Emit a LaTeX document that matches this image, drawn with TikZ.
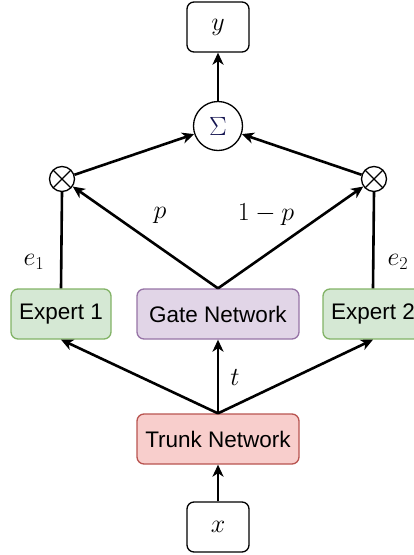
\RequirePackage{fix-cm}
\documentclass[tikz,border=0pt]{standalone}
\usepackage{graphicx}
\usepackage{fontspec}
\setmainfont{Liberation Sans}
\usetikzlibrary{arrows.meta}
\definecolor{expfill}{HTML}{D5E8D4}\definecolor{expline}{HTML}{82B366}
\definecolor{gatefill}{HTML}{E1D5E7}\definecolor{gateline}{HTML}{9673A6}
\definecolor{trunkfill}{HTML}{F8CECC}\definecolor{trunkline}{HTML}{B85450}
\definecolor{sigmablue}{HTML}{141450}
\begin{document}
\begin{tikzpicture}[x=1pt,y=-1pt,
  box/.style={draw, line width=1.3pt, rounded corners=7pt, minimum height=50pt,
    inner sep=0pt, font=\fontsize{22.5}{25}\selectfont},
  varbox/.style={box, minimum width=62pt, font=\fontsize{26}{29}\selectfont},
  expbox/.style={box, fill=expfill, draw=expline, minimum width=100pt},
  netbox/.style={box, minimum width=162pt},
  mathlbl/.style={inner sep=0pt, font=\fontsize{26}{29}\selectfont},
  mult/.style={circle, draw, line width=1.3pt, minimum size=25pt, inner sep=0pt,
    path picture={\draw[line width=1.1pt]
      (path picture bounding box.north west) -- (path picture bounding box.south east)
      (path picture bounding box.north east) -- (path picture bounding box.south west);}},
  flow/.style={line width=2.6pt, -{Stealth[length=12pt,width=11pt,inset=3.5pt]}},
  link/.style={line width=2.6pt}]
\clip (0,0) rectangle (414,555);
\useasboundingbox (0,0) rectangle (414,555);

% variables
\node[varbox] (y) at (218,27) {$y$};
\node[varbox] (x) at (218,527) {$x$};

% combination
\node[circle, draw, line width=1.3pt, minimum size=49pt, inner sep=0pt,
  font=\fontsize{22}{25}\selectfont, text=sigmablue] (sum) at (218,126)
  {\scalebox{1.2}{$\Sigma$}};
\node[mult] (ml) at (62,179) {};
\node[mult] (mr) at (374,179) {};

% networks
\node[expbox] (e1) at (61,314) {Expert 1};
\node[netbox, fill=gatefill, draw=gateline] (gate) at (218,314) {Gate Network};
\node[expbox] (e2) at (373,314) {Expert 2};
\node[netbox, fill=trunkfill, draw=trunkline] (trunk) at (218,439) {Trunk Network};

% connectors
\draw[flow] (x) -- (trunk);
\draw[flow] (trunk.north) -- (e1.south);
\draw[flow] (trunk.north) -- (gate.south);
\draw[flow] (trunk.north) -- (e2.south);
\draw[link] (e1.north) -- (ml.south);
\draw[link] (e2.north) -- (mr.south);
\draw[flow] (gate.north) -- (ml);
\draw[flow] (gate.north) -- (mr);
\draw[flow] (ml) -- (sum);
\draw[flow] (mr) -- (sum);
\draw[flow] (sum) -- (y);

% labels
\node[mathlbl] (le1) at (34,262) {$e_1$};
\node[mathlbl] (le2) at (398,262) {$e_2$};
\node[mathlbl] (lp) at (160,215) {$p$};
\node[mathlbl] (lq) at (266,215) {$1-p$};
\node[mathlbl] (lt) at (235,377) {$t$};
\end{tikzpicture}
\end{document}
